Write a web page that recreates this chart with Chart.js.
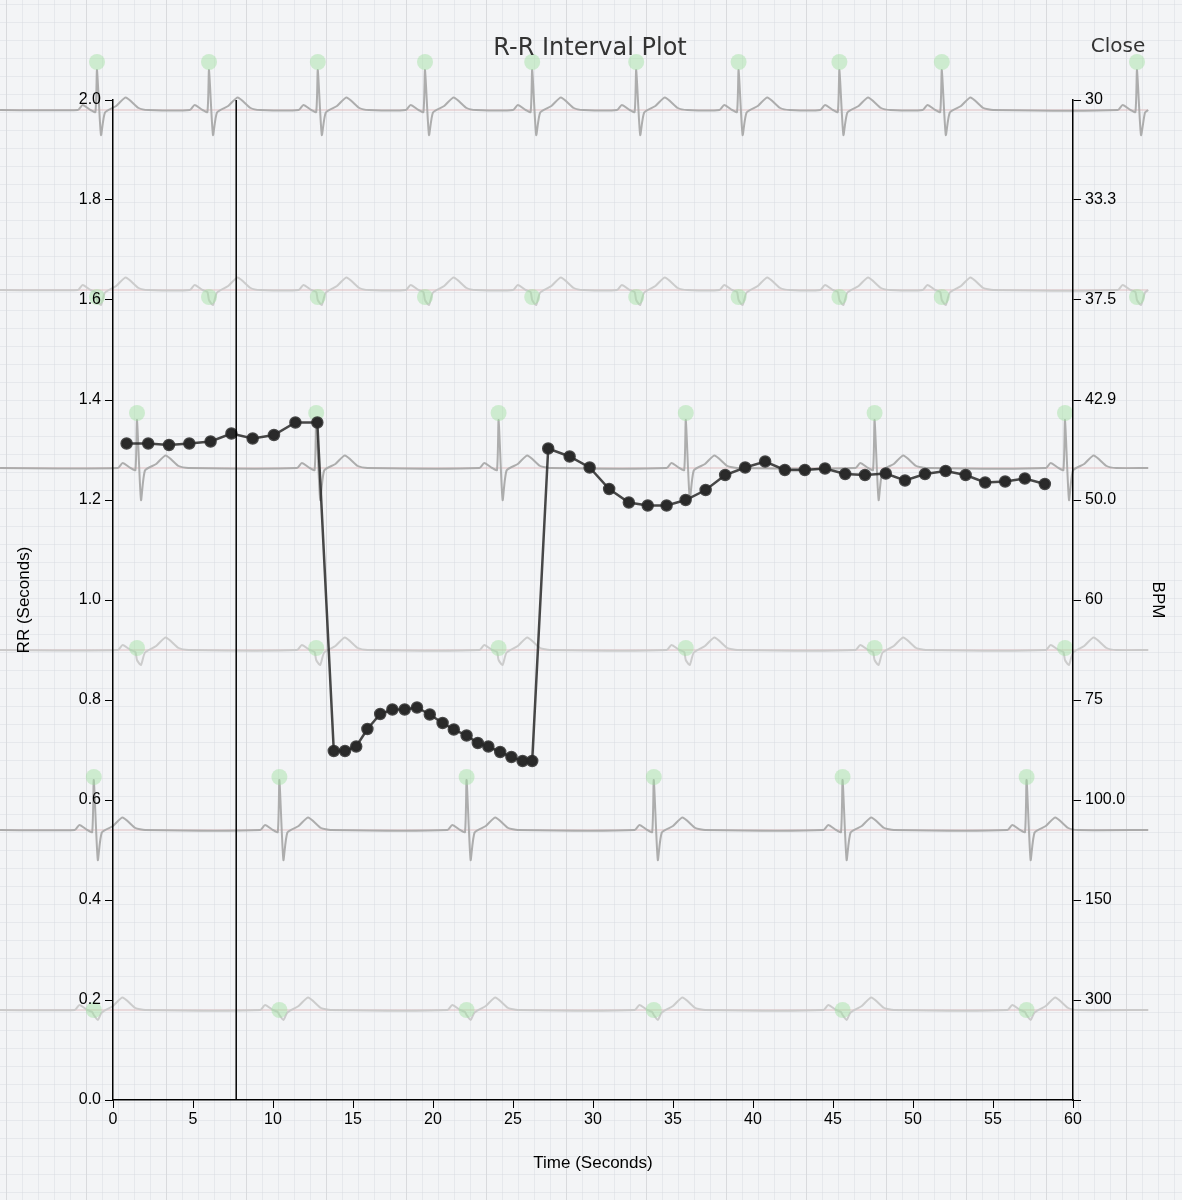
<!DOCTYPE html>
<html><head><meta charset="utf-8">
<script src="https://cdn.jsdelivr.net/npm/chart.js@4.4.1/dist/chart.umd.min.js"></script>
<style>html,body{margin:0;padding:0;background:#f3f4f6;}#wrap{position:relative;width:1182px;height:1200px;}canvas{display:block;position:absolute;left:0;top:0;}</style>
</head><body>
<div id="wrap"><canvas id="bg" width="1182" height="1200"></canvas><canvas id="c" width="1182" height="1200"></canvas></div>
<script>
// RR interval data (time in seconds, RR in seconds)
const rrTimes = [0.85,2.2,3.5,4.77,6.1,7.4,8.73,10.06,11.4,12.77,13.8,14.5,15.2,15.9,16.7,17.46,18.23,19.0,19.8,20.6,21.3,22.1,22.8,23.46,24.2,24.9,25.6,26.2,27.2,28.54,29.79,31.01,32.24,33.42,34.6,35.79,37.04,38.26,39.51,40.76,41.99,43.24,44.5,45.76,47.0,48.3,49.5,50.75,52.04,53.29,54.51,55.76,56.99,58.24];
const rrValues = [1.313,1.313,1.31,1.313,1.317,1.333,1.323,1.33,1.355,1.355,0.698,0.698,0.707,0.742,0.772,0.781,0.781,0.785,0.771,0.754,0.741,0.729,0.714,0.707,0.696,0.686,0.678,0.678,1.303,1.287,1.265,1.222,1.195,1.189,1.189,1.2,1.22,1.25,1.265,1.277,1.26,1.26,1.263,1.252,1.25,1.253,1.239,1.252,1.258,1.25,1.235,1.237,1.243,1.232];
const leftTicks = [0,0.2,0.4,0.6,0.8,1.0,1.2,1.4,1.6,1.8,2.0];
const bpmLabels = {"2.0":"30","1.8":"33.3","1.6":"37.5","1.4":"42.9","1.2":"50.0","1.0":"60","0.8":"75","0.6":"100.0","0.4":"150","0.2":"300"};
const markerTime = 7.7;
// background ECG strips: baseline level, R-peak times, peak and dip levels
const stripBase = [1.98,1.62,1.264,0.9,0.54,0.18];
const stripBeats = [
  [-1,6,12.8,19.5,26.2,32.7,39.1,45.4,51.8,64],
  [-1,6,12.8,19.5,26.2,32.7,39.1,45.4,51.8,64],
  [1.5,12.7,24.1,35.8,47.6,59.5],
  [1.5,12.7,24.1,35.8,47.6,59.5],
  [-1.2,10.4,22.1,33.8,45.6,57.1],
  [-1.2,10.4,22.1,33.8,45.6,57.1]];
const stripPeak = [2.06,1.6,1.36,0.88,0.64,0.17];
const stripDip = [1.93,1.59,1.2,0.87,0.48,0.16];
const markerLevel = [2.076,1.606,1.374,0.904,0.646,0.18];
const stripStart = -7.06, stripEnd = 64.7;

const ecgSets = [];
stripBase.forEach((b,i)=>{
  const pts=[{x:stripStart,y:b}];
  stripBeats[i].forEach(t=>{
    pts.push({x:t-1.2,y:b},{x:t-0.9,y:b+0.01},{x:t-0.4,y:b},{x:t-0.1,y:b-0.004},{x:t,y:stripPeak[i]},{x:t+0.25,y:stripDip[i]},{x:t+0.5,y:b-0.005},{x:t+1.2,y:b+0.008},{x:t+1.8,y:b+0.025},{x:t+2.6,y:b+0.004},{x:t+3.2,y:b});
  });
  pts.push({x:stripEnd,y:b});
  const faint = i%2===1;
  ecgSets.push({type:'line',data:[{x:stripStart,y:b},{x:stripEnd,y:b}],borderColor:'rgba(220,180,180,0.55)',borderWidth:1.5,pointRadius:0,order:10});
  ecgSets.push({type:'line',data:pts.filter(p=>p.x>=stripStart&&p.x<=stripEnd).sort((a,c)=>a.x-c.x),borderColor:faint?'rgba(200,200,200,0.9)':'rgba(165,165,165,0.9)',borderWidth:2,pointRadius:0,tension:0.2,order:9});
  ecgSets.push({type:'scatter',data:stripBeats[i].filter(t=>t<=stripEnd).map(t=>({x:t,y:markerLevel[i]})),backgroundColor:'rgba(160,225,160,0.45)',borderWidth:0,pointRadius:8,order:8});
});

const gridPlugin={id:'grid',beforeDraw(ch){const c=ch.ctx;c.save();c.fillStyle='#f3f4f6';c.fillRect(0,0,ch.width,ch.height);
  for(let x=6;x<ch.width;x+=16){c.strokeStyle=((x-86)%80===0)?'rgba(200,200,205,0.6)':'rgba(215,218,225,0.45)';c.lineWidth=1;c.beginPath();c.moveTo(x+0.5,0);c.lineTo(x+0.5,ch.height);c.stroke();}
  for(let y=4;y<ch.height;y+=18){c.strokeStyle='rgba(215,218,225,0.45)';c.beginPath();c.moveTo(0,y+0.5);c.lineTo(ch.width,y+0.5);c.stroke();}
  c.restore();}};

// background chart: full-canvas area, same data units as the foreground axes
new Chart(document.getElementById('bg'),{
  data:{datasets:ecgSets},
  options:{responsive:false,animation:false,events:[],layout:{padding:0,autoPadding:false},
    plugins:{legend:{display:false},tooltip:{enabled:false}},
    scales:{x:{type:'linear',display:false,min:-113/16,max:(1182-113)/16},
            y:{type:'linear',display:false,min:-0.2,max:2.2}}},
  plugins:[gridPlugin]
});

const overlayPlugin={id:'overlay',afterDatasetsDraw(ch){const c=ch.ctx,xs=ch.scales.x,ys=ch.scales.y;const px=xs.getPixelForValue(markerTime);
  c.save();c.strokeStyle='#000';c.lineWidth=1.5;c.beginPath();c.moveTo(px,ys.top);c.lineTo(px,ys.bottom);c.stroke();
  c.fillStyle='#333';c.font='24px "DejaVu Sans", sans-serif';c.textAlign='center';c.textBaseline='middle';c.fillText('R-R Interval Plot',590,49);
  c.font='20px "DejaVu Sans", sans-serif';c.fillText('Close',1118,47);c.restore();}};

new Chart(document.getElementById('c'),{
  data:{datasets:[{type:'line',data:rrTimes.map((t,i)=>({x:t,y:rrValues[i]})),borderColor:'rgba(40,40,40,0.85)',backgroundColor:'#2a2a2a',borderWidth:2.5,pointRadius:5,pointHoverRadius:5}]},
  options:{responsive:false,animation:false,events:[],layout:{padding:{top:100,left:0,right:0,bottom:0},autoPadding:false},
    plugins:{legend:{display:false},tooltip:{enabled:false}},
    scales:{
      x:{type:'linear',min:0,max:60,ticks:{stepSize:5,color:'#000',font:{size:16,family:'Liberation Sans'},padding:2},
        grid:{drawOnChartArea:false,drawTicks:true,tickLength:8,color:'#000'},border:{display:true,color:'#000',width:1.5},
        title:{display:true,text:'Time (Seconds)',color:'#000',font:{size:17,family:'Liberation Sans'},padding:{top:16,bottom:26}},
        afterFit(s){s.height=100;}},
      y:{type:'linear',position:'left',min:0,max:2,afterBuildTicks(s){s.ticks=leftTicks.map(v=>({value:v}));},
        ticks:{color:'#000',font:{size:16,family:'Liberation Sans'},callback:v=>v.toFixed(1),padding:4},
        grid:{drawOnChartArea:false,drawTicks:true,tickLength:8,color:'#000'},border:{display:true,color:'#000',width:1.5},
        title:{display:true,text:'RR (Seconds)',color:'#000',font:{size:17,family:'Liberation Sans'},padding:{top:14,bottom:0}},
        afterFit(s){s.width=113;}},
      y2:{type:'linear',position:'right',min:0,max:2,afterBuildTicks(s){s.ticks=leftTicks.map(v=>({value:v}));},
        ticks:{color:'#000',font:{size:16,family:'Liberation Sans'},callback:v=>bpmLabels[v.toFixed(1)]||'',padding:4},
        grid:{drawOnChartArea:false,drawTicks:true,tickLength:8,color:'#000'},border:{display:true,color:'#000',width:1.5},
        title:{display:true,text:'BPM',color:'#000',font:{size:17,family:'Liberation Sans'},padding:{top:14,bottom:0}},
        afterFit(s){s.width=109;}}
    }},
  plugins:[overlayPlugin]
});
</script></body></html>
